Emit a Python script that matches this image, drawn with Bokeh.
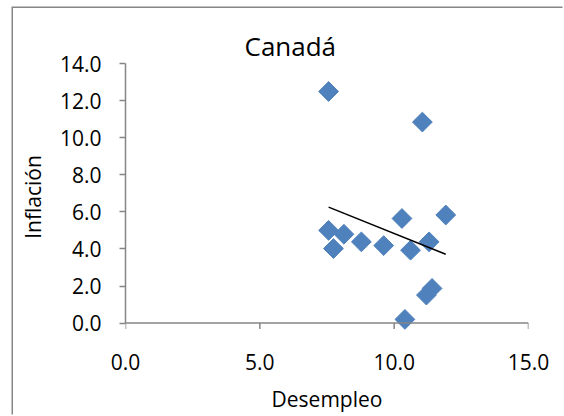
import numpy as np
from bokeh.plotting import figure
from bokeh.models import Range1d, FixedTicker, PrintfTickFormatter, Span
from bokeh.embed import file_html
from bokeh.resources import INLINE

# Data: Canadá — desempleo (x) vs inflación (y)
desempleo = [7.56, 7.56, 7.74, 8.13, 8.78, 9.61, 10.29, 10.61, 11.30, 11.92, 11.41, 11.20, 10.40, 11.05]
inflacion = [12.49, 5.00, 4.02, 4.79, 4.38, 4.18, 5.64, 3.93, 4.38, 5.83, 1.87, 1.51, 0.20, 10.84]
x_ticks = [0, 5, 10, 15]
y_ticks = [0, 2, 4, 6, 8, 10, 12, 14]
titulo = "Canadá"
x_label = "Desempleo"
y_label = "Inflación"

FONT = "Open Sans"
GRAY = "#868686"
BLUE = "#4F81BD"
TICK_LEN = 6 / 18.54  # tick length in data units (6 px)

p = figure(width=551, height=408, output_backend="svg", toolbar_location=None,
           x_range=Range1d(0, 15), y_range=Range1d(-0.4, 14),
           min_border_left=112, min_border_right=36, min_border_top=55, min_border_bottom=86,
           title=titulo)
p.margin = (8, 0, 0, 13)
p.styles = {"box-shadow": "-1.5px -1.5px 0 0 #868686"}
p.outline_line_color = None
p.grid.visible = False
p.background_fill_color = "white"
p.border_fill_color = "white"

# title
p.title.align = "left"
p.title.offset = 119
p.title.text_font = FONT
p.title.text_font_size = "26px"
p.title.text_font_style = "normal"
p.title.text_color = "black"
p.title.standoff = 0

# axes
p.xaxis.ticker = FixedTicker(ticks=x_ticks)
p.yaxis.ticker = FixedTicker(ticks=y_ticks)
p.yaxis.bounds = (0, 14)
for ax in (p.xaxis[0], p.yaxis[0]):
    ax.formatter = PrintfTickFormatter(format="%.1f")
    ax.axis_line_color = GRAY
    ax.axis_line_width = 1.5
    ax.major_tick_line_color = GRAY
    ax.major_tick_line_width = 1.5
    ax.major_tick_out = 6
    ax.major_tick_in = 0
    ax.minor_tick_line_color = None
    ax.major_label_text_font = FONT
    ax.major_label_text_font_size = "21px"
    ax.major_label_text_color = "black"
    ax.axis_label_text_font = FONT
    ax.axis_label_text_font_size = "21px"
    ax.axis_label_text_font_style = "normal"
    ax.axis_label_text_color = "black"
p.xaxis.axis_label = x_label
p.yaxis.axis_label = y_label
p.yaxis.major_label_standoff = 18
p.yaxis.axis_label_standoff = 10
# x axis sits at the frame bottom (just below y=0): keep only its labels
p.xaxis.axis_line_color = None
p.xaxis.major_tick_line_color = None
p.xaxis.major_tick_out = 0
p.xaxis.major_label_standoff = 23
p.xaxis.axis_label_standoff = 12

# x axis line and ticks at y = 0
p.add_layout(Span(location=0, dimension="width", line_color=GRAY, line_width=1.5))
p.segment(x0=x_ticks, y0=[0] * len(x_ticks), x1=x_ticks, y1=[-TICK_LEN] * len(x_ticks),
          line_color=GRAY, line_width=1.5)

# scatter points (diamonds)
p.scatter(desempleo, inflacion, marker="square", angle=np.pi / 4, size=14,
          fill_color=BLUE, line_color=BLUE)

# linear trendline computed from the data
xs = np.array(desempleo)
ys = np.array(inflacion)
m, b = np.polyfit(xs, ys, 1)
tx = np.array([xs.min(), xs.max()])
p.line(tx, m * tx + b, line_color="black", line_width=1.5)

open("out.html", "w").write(file_html(p, INLINE))
